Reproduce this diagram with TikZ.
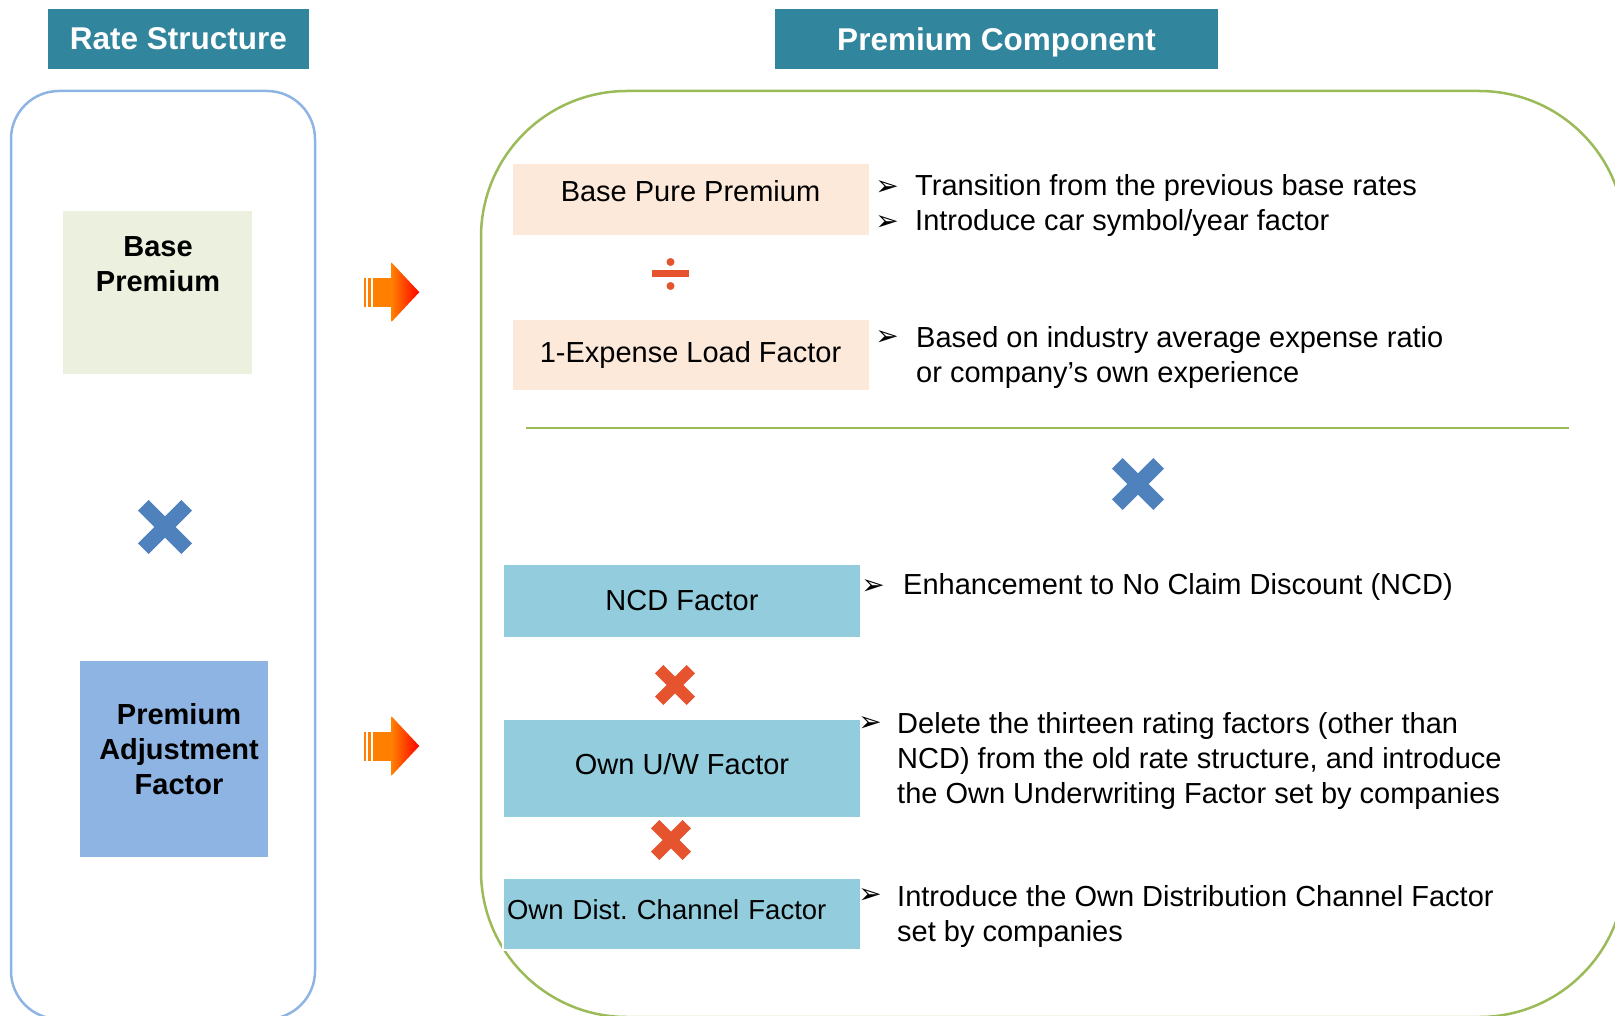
\documentclass[tikz,border=0pt]{standalone}
\usepackage{fontspec}
\setmainfont{Liberation Sans}
\newfontfamily\symfont{DejaVu Sans}
\usetikzlibrary{positioning}

\definecolor{hdrteal}{HTML}{31859C}
\definecolor{frameblue}{HTML}{8EB4E3}
\definecolor{framegreen}{HTML}{9BBB59}
\definecolor{paleolive}{HTML}{EBF1DE}
\definecolor{adjblue}{HTML}{8EB4E3}
\definecolor{peach}{HTML}{FDE9D9}
\definecolor{factorblue}{HTML}{93CDDD}
\definecolor{crossblue}{HTML}{4F81BD}
\definecolor{crossred}{HTML}{E5532F}
\definecolor{arroworange}{HTML}{FF8000}

\def\bodysize{\fontsize{29}{35}\selectfont}

\tikzset{
  header/.style={fill=hdrteal, text=white, font=\fontsize{31.5}{36}\selectfont\bfseries, minimum height=60pt, inner sep=0pt, text depth=0pt},
  plainbox/.style={draw=white, line width=2pt, inner sep=0pt},
  factorbox/.style={plainbox, minimum width=358pt, font=\bodysize},
  boldtxt/.style={align=center, inner sep=0pt, font=\fontsize{29}{35}\selectfont\bfseries},
  notetxt/.style={anchor=base west, inner sep=0pt, align=left, font=\bodysize},
  bulletmark/.style={inner sep=0pt, font=\symfont\fontsize{28}{28}\selectfont},
  pics/blockarrow/.style={code={
    \fill[arroworange] (-27.5,-14.5) rectangle (-25.5,14.5);
    \fill[arroworange] (-23.5,-14.5) rectangle (-20.8,14.5);
    \fill[arroworange] (-18.8,-14.5) rectangle (0.7,14.5);
    \shade[left color=arroworange, right color=red] (0.2,-29.5) -- (27.8,0) -- (0.2,29.5) -- cycle;
  }},
  pics/crossmark/.style 2 args={code={
    \draw[line width=#2, line cap=butt] (-#1,-#1) -- (#1,#1) (-#1,#1) -- (#1,-#1);
  }},
}

\begin{document}
\begin{tikzpicture}[x=1pt, y=-1pt]
  \useasboundingbox (0,0) rectangle (1615,1016);
  \clip (0,0) rectangle (1615,1016);

  % headers
  \node[header, minimum width=261pt] (ratehdr) at (178.5,39) {Rate Structure};
  \node[header, minimum width=443pt] (premhdr) at (996.5,39) {Premium Component};

  % frames
  \draw[frameblue, line width=2.5pt, rounded corners=48pt] (11,91) rectangle (315,1019);
  \draw[framegreen, line width=2.5pt, rounded corners=146pt] (481,91) rectangle (1625,1017);

  % left column
  \node[plainbox, fill=paleolive, minimum width=191pt, minimum height=165pt] (basebox) at (157.5,292.5) {};
  \node[boldtxt] (basetxt) at (158,264) {Base\\Premium};
  \pic[color=crossblue] at (165,527) {crossmark={21.7}{15pt}};
  \node[plainbox, fill=adjblue, minimum width=190pt, minimum height=198pt] (adjbox) at (174,759) {};
  \node[boldtxt] (adjtxt) at (179,749) {Premium\\Adjustment\\Factor};

  % arrows
  \pic at (391.5,292.2) {blockarrow};
  \pic at (391.5,746) {blockarrow};

  % premium component: upper part
  \node[factorbox, fill=peach, minimum height=73pt, text depth=18pt] (purebox) at (690.5,199.5) {Base Pure Premium};
  \fill[crossred] (651.5,270) rectangle (688.5,277);
  \fill[crossred] (670.5,262) circle (4) (670.5,286) circle (4);
  \node[factorbox, fill=peach, minimum height=72pt] (expbox) at (690.5,355) {1-Expense Load Factor};

  \node[bulletmark] (bul1) at (887,188) {➢};
  \node[notetxt] (note1) at (915,196) {Transition from the previous base rates};
  \node[bulletmark] (bul2) at (887,223) {➢};
  \node[notetxt] (note2) at (915,231) {Introduce car symbol/year factor};
  \node[bulletmark] (bul3) at (887,338) {➢};
  \node[notetxt] (note3) at (916,382) {Based on industry average expense ratio\\or company’s own experience};

  \draw[framegreen, line width=1.5pt] (526,428) -- (1569,428);
  \pic[color=crossblue] at (1138,484) {crossmark={20.7}{15pt}};

  % premium component: lower part
  \node[factorbox, fill=factorblue, minimum height=74pt] (ncdbox) at (682,601) {NCD Factor};
  \pic[color=crossred] at (675,685) {crossmark={15.8}{12pt}};
  \node[factorbox, fill=factorblue, minimum height=99pt, text depth=10pt] (uwbox) at (682,768.5) {Own U/W Factor};
  \pic[color=crossred] at (671,840) {crossmark={15.8}{12pt}};
  \node[factorbox, fill=factorblue, minimum height=72pt, text width=350pt, align=left, inner xsep=4pt, text depth=8pt, font=\fontsize{27.5}{34}\selectfont] (distbox) at (682,914) {Own Dist.\ Channel Factor};

  \node[bulletmark] (bul4) at (873,587) {➢};
  \node[notetxt] (note4) at (903,594) {Enhancement to No Claim Discount (NCD)};
  \node[bulletmark] (bul5) at (870,724) {➢};
  \node[notetxt] (note5) at (897,803) {Delete the thirteen rating factors (other than\\NCD) from the old rate structure, and introduce\\the Own Underwriting Factor set by companies};
  \node[bulletmark] (bul6) at (870,896) {➢};
  \node[notetxt] (note6) at (897,941) {Introduce the Own Distribution Channel Factor\\set by companies};
\end{tikzpicture}
\end{document}
